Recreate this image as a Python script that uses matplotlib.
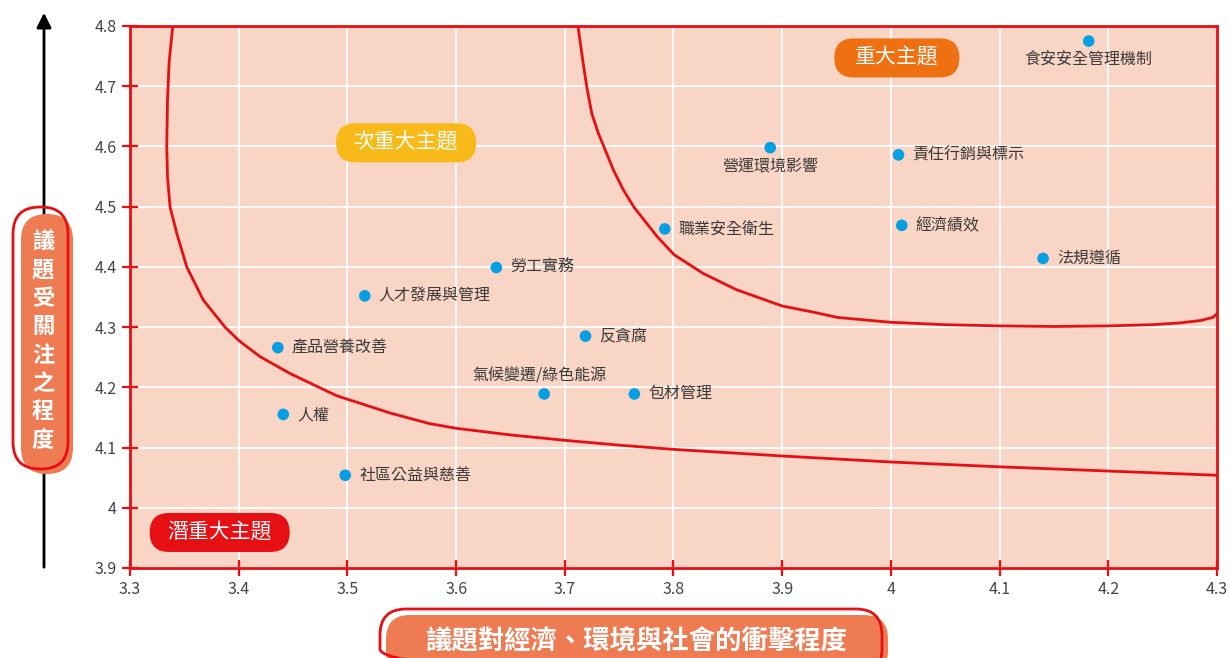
import matplotlib.pyplot as plt
from matplotlib.patches import FancyBboxPatch

plt.rcParams['font.family'] = ['Noto Sans CJK TC', 'DejaVu Sans']

# 議題資料 (衝擊程度, 關注程度)
topics = ['食安安全管理機制', '營運環境影響', '責任行銷與標示', '經濟績效', '法規遵循',
          '職業安全衛生', '勞工實務', '人才發展與管理', '反貪腐', '產品營養改善',
          '氣候變遷/綠色能源', '包材管理', '人權', '社區公益與慈善']
impact = [4.182, 3.889, 4.007, 4.010, 4.140, 3.792, 3.637, 3.516, 3.719, 3.436,
          3.681, 3.764, 3.441, 3.498]
concern = [4.775, 4.598, 4.586, 4.469, 4.414, 4.463, 4.399, 4.352, 4.285, 4.266,
           4.189, 4.189, 4.155, 4.054]
label_pos = ['below', 'below', 'right', 'right', 'right', 'right', 'right', 'right',
             'right', 'right', 'above', 'right', 'right', 'right']

# 分界曲線
lower_x = [3.3393, 3.336, 3.3345, 3.3338, 3.3345, 3.3368, 3.343, 3.3522, 3.3674, 3.3874,
           3.4006, 3.4196, 3.4472, 3.4902, 3.54, 3.575, 3.60, 3.65, 3.70, 3.75, 3.80,
           3.90, 4.00, 4.10, 4.20, 4.30]
lower_y = [4.80, 4.74, 4.677, 4.60, 4.55, 4.50, 4.456, 4.40, 4.345, 4.30,
           4.277, 4.251, 4.223, 4.186, 4.157, 4.140, 4.132, 4.121, 4.112, 4.104, 4.097,
           4.086, 4.076, 4.068, 4.061, 4.054]
upper_x = [3.7121, 3.7165, 3.7201, 3.7248, 3.7308, 3.7361, 3.7447, 3.7538, 3.7637, 3.7851,
           3.8007, 3.8274, 3.8581, 3.9001, 3.9256, 3.951, 4.00, 4.05, 4.10, 4.15, 4.20,
           4.24, 4.266, 4.285, 4.296, 4.30]
upper_y = [4.80, 4.7435, 4.70, 4.655, 4.622, 4.599, 4.561, 4.528, 4.499, 4.450,
           4.420, 4.389, 4.362, 4.335, 4.326, 4.316, 4.308, 4.304, 4.302, 4.301, 4.302,
           4.304, 4.307, 4.311, 4.316, 4.322]

# 區塊標籤 (文字, 中心 x, 中心 y, 顏色)
zones = ['重大主題', '次重大主題', '潛重大主題']
zone_x = [4.0055, 3.554, 3.3825]
zone_y = [4.747, 4.606, 3.959]
zone_colors = ['#EE7010', '#F8BA18', '#E50F14']

xticks = [3.3, 3.4, 3.5, 3.6, 3.7, 3.8, 3.9, 4.0, 4.1, 4.2, 4.3]
yticks = [3.9, 4.0, 4.1, 4.2, 4.3, 4.4, 4.5, 4.6, 4.7, 4.8]

red = '#E50F14'

fig = plt.figure(figsize=(12.3, 6.58), dpi=100)

# 背景層 (像素座標) 放箭頭與軸標題
bg = fig.add_axes([0, 0, 1, 1])
bg.set_xlim(0, 1230)
bg.set_ylim(658, 0)
bg.axis('off')

bg.annotate('', xy=(44, 10), xytext=(44, 570),
            arrowprops=dict(arrowstyle='-|>', color='black', lw=2, mutation_scale=22))
bg.annotate('', xy=(1232, 643), xytext=(130, 643),
            arrowprops=dict(arrowstyle='-|>', color='black', lw=2, mutation_scale=22))

# y 軸標題
bg.add_patch(FancyBboxPatch((21, 214), 52, 260, boxstyle='round,pad=0,rounding_size=26',
                            fc='#EF7B52', ec='none', zorder=3))
bg.add_patch(FancyBboxPatch((13, 207), 55, 262, boxstyle='round,pad=0,rounding_size=27',
                            fc='none', ec=red, lw=2, zorder=4))
bg.text(43, 341, '\n'.join('議題受關注之程度'), color='white', fontsize=16,
        fontweight='bold', ha='center', va='center', linespacing=1.3, zorder=5)

# x 軸標題
bg.add_patch(FancyBboxPatch((386, 615), 502, 60, boxstyle='round,pad=0,rounding_size=24',
                            fc='#EF7B52', ec='none', zorder=3))
bg.add_patch(FancyBboxPatch((380, 609), 502, 66, boxstyle='round,pad=0,rounding_size=26',
                            fc='none', ec=red, lw=2, zorder=4))
bg.text(636, 642, '議題對經濟、環境與社會的衝擊程度', color='white', fontsize=19,
        fontweight='bold', ha='center', va='center', zorder=5)

# 主圖
ax = fig.add_axes([130 / 1230, 1 - 568 / 658, 1087 / 1230, 542 / 658])
ax.set_facecolor('#F8D5C4')
ax.set_xlim(3.3, 4.3)
ax.set_ylim(3.9, 4.8)
ax.set_xticks(xticks)
ax.set_yticks(yticks)
ax.set_xticklabels([f'{v:g}' for v in xticks])
ax.set_yticklabels([f'{v:g}' for v in yticks])
ax.grid(color='white', lw=1.3)
ax.set_axisbelow(True)
for s in ax.spines.values():
    s.set_color(red)
    s.set_linewidth(2)
ax.tick_params(direction='inout', length=12, width=1.6, color=red,
               labelcolor='#444444', labelsize=11.5)

ax.plot(lower_x, lower_y, color=red, lw=2, zorder=2, solid_joinstyle='round')
ax.plot(upper_x, upper_y, color=red, lw=2, zorder=2, solid_joinstyle='round')

ax.scatter(impact, concern, s=70, color='#069FE3', zorder=4, edgecolors='none')
for name, x, y, pos in zip(topics, impact, concern, label_pos):
    if pos == 'right':
        ax.annotate(name, (x, y), xytext=(10, 0), textcoords='offset points',
                    ha='left', va='center', fontsize=11.5, color='#3a3a3a')
    elif pos == 'below':
        ax.annotate(name, (x, y), xytext=(0, -8), textcoords='offset points',
                    ha='center', va='top', fontsize=11.5, color='#3a3a3a')
    else:
        ax.annotate(name, (x, y), xytext=(-3, 7), textcoords='offset points',
                    ha='center', va='bottom', fontsize=11.5, color='#3a3a3a')

# 區塊標籤: 圓角底框以像素大小繪製
to_px = ax.transData + bg.transData.inverted()
for text, x, y, c in zip(zones, zone_x, zone_y, zone_colors):
    px, py = to_px.transform((x, y))
    w = 125 if len(text) == 4 else 140
    ax.add_patch(FancyBboxPatch((px - w / 2, py - 19.5), w, 39,
                                boxstyle='round,pad=0,rounding_size=19.5',
                                fc=c, ec='none', transform=bg.transData,
                                zorder=5, clip_on=False))
    ax.text(x, y, text, fontsize=15, fontweight='light', color='white',
            ha='center', va='center', zorder=6)

fig.savefig('out.png', dpi=100)
